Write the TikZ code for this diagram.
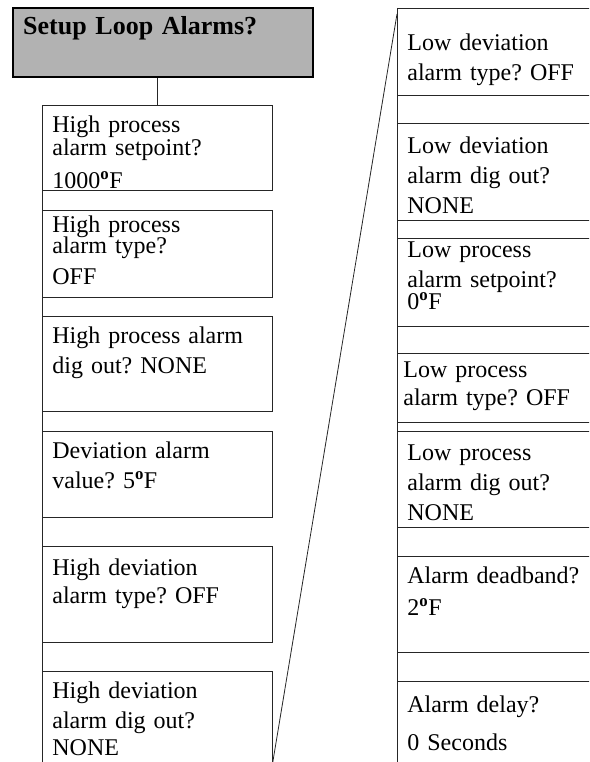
\documentclass[tikz,border=0pt]{standalone}
\usepackage{fontspec}
\setmainfont{Liberation Serif}
\usetikzlibrary{positioning,calc}
\newcommand{\degF}{\textsuperscript{\textbf{o}}F}
\frenchspacing

\begin{document}
\begin{tikzpicture}[x=1pt, y=-1pt,
    menubox/.style={draw=black!85, line width=0.8pt, anchor=north west,
        align=left, inner xsep=10pt, inner ysep=0pt, text width=210pt,
        font=\fontsize{24}{30}\selectfont},
    sidebox/.style={menubox, text width=230pt},
    titlebox/.style={draw, line width=2.4pt, fill=black!30, anchor=north west,
        align=left, inner xsep=10pt, inner ysep=0pt, text width=280pt,
        text height=26pt, text depth=43pt,
        font=\fontsize{26}{30}\selectfont\bfseries},
    wire/.style={draw=black!85, line width=0.8pt}]
    \useasboundingbox (0,0) rectangle (589,762);
    \clip (0,0) rectangle (589,762);

    \node[titlebox] (title) at (12,7) {Setup Loop Alarms?};

    % left column
    \node[menubox, text height=27pt, text depth=58pt] (hpsp) at (42,105)
        {High process\\[-7pt]alarm setpoint?\\[3pt]1000\degF};
    \node[menubox, text height=22pt, text depth=65pt] (hpat) at (42,210)
        {High process\\[-9pt]alarm type?\\[1pt]OFF};
    \node[menubox, text height=27pt, text depth=68pt] (hpdo) at (42,316)
        {High process alarm\\dig out? NONE};
    \node[menubox, text height=27pt, text depth=59pt] (dav) at (42,431)
        {Deviation alarm\\value? 5\degF};
    \node[menubox, text height=29pt, text depth=67pt] (hdat) at (42,546)
        {High deviation\\[-2pt]alarm type? OFF};
    \node[menubox, text height=27pt, text depth=140pt] (hddo) at (42,671)
        {High deviation\\alarm dig out?\\[-3pt]NONE};

    % right column
    \node[sidebox, text height=42pt, text depth=45pt] (ldat) at (397,8)
        {Low deviation\\alarm type? OFF};
    \node[sidebox, text height=30pt, text depth=67pt] (lddo) at (397,123)
        {Low deviation\\alarm dig out?\\NONE};
    \node[sidebox, text height=19pt, text depth=69pt] (lpsp) at (397,238)
        {Low process\\alarm setpoint?\\[-8pt]0\degF};
    \node[sidebox, inner xsep=6pt, text height=24pt, text depth=45pt] (lpat) at (397,353)
        {Low process\\[-2pt]alarm type? OFF};
    \node[sidebox, text height=29pt, text depth=67pt] (lpdo) at (397,431)
        {Low process\\alarm dig out?\\NONE};
    \node[sidebox, text height=27pt, text depth=69pt] (adb) at (397,556)
        {Alarm deadband?\\[2pt]2\degF};
    \node[sidebox, text height=31pt, text depth=120pt] (adl) at (397,681)
        {Alarm delay?\\[8pt]0 Seconds};

    % links
    \coordinate (floor) at (0,762);
    \coordinate (cut) at (hddo.north east |- floor);
    \coordinate (lead) at ($(ldat.north west)+(0,6)$);
    \draw[wire] (hpsp.north) -- (hpsp.north |- title.south);
    \draw[wire] (hpsp.south west) -- (hddo.north west);
    \draw[wire] (ldat.north west) -- (adl.north west);
    \draw[wire] (cut) -- (lead);
\end{tikzpicture}
\end{document}
